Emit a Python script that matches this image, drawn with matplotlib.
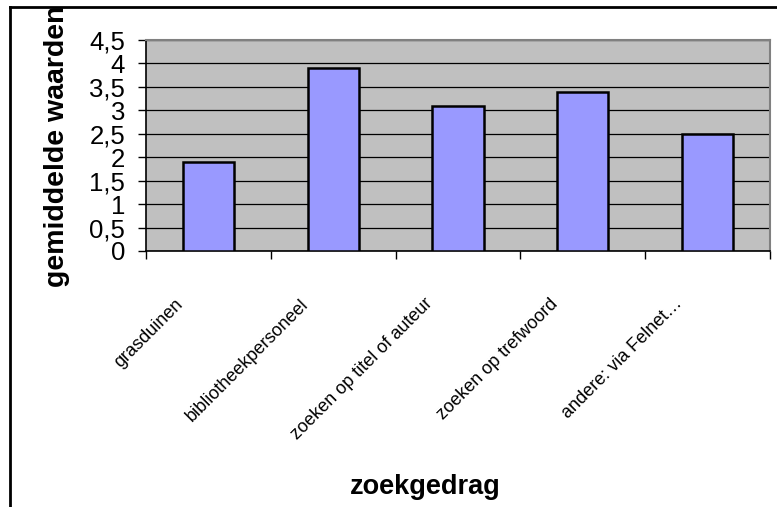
import numpy as np
import matplotlib
matplotlib.use("Agg")
import matplotlib.pyplot as plt
from matplotlib.lines import Line2D

plt.rcParams['font.family'] = ['Liberation Sans', 'DejaVu Sans']

categories = [
    "grasduinen",
    "bibliotheekpersoneel",
    "zoeken op titel of auteur",
    "zoeken op trefwoord",
    "andere: via Felnet\u2026",
]
values = [1.9, 3.9, 3.1, 3.4, 2.5]
y_ticks = [0, 0.5, 1, 1.5, 2, 2.5, 3, 3.5, 4, 4.5]
y_tick_labels = ["0", "0,5", "1", "1,5", "2", "2,5", "3", "3,5", "4", "4,5"]

W, H = 777, 507
fig = plt.figure(figsize=(W / 100, H / 100), dpi=100)
fig.patch.set_facecolor("white")

# plot area in pixel terms
left, right, top, bottom = 146, 770, 40, 251
ax = fig.add_axes([left / W, 1 - bottom / H, (right - left) / W, (bottom - top) / H])
ax.set_facecolor("#C0C0C0")

n = len(categories)
x = np.arange(n)
ax.bar(x, values, width=0.41, color="#9999FF", edgecolor="black",
       linewidth=1.8, zorder=3)

ax.set_xlim(-0.5, n - 0.5)
ax.set_ylim(0, 4.5)

# horizontal gridlines
ax.set_yticks(y_ticks)
ax.set_yticklabels(y_tick_labels, fontsize=18.5)
ax.yaxis.grid(True, color="black", linewidth=0.9, zorder=1)
ax.set_axisbelow(True)
ax.tick_params(axis="y", direction="out", length=6, width=1, pad=9,
               color="black")

# category boundary ticks on the x axis
ax.set_xticks(np.arange(n + 1) - 0.5, minor=True)
ax.tick_params(axis="x", which="minor", direction="out", length=5.5,
               width=1, color="black")

# slanted category labels, their ends sitting just left of each category
ax.set_xticks(x - 0.27)
ax.set_xticklabels(categories, fontsize=13, rotation=45, ha="right",
                   va="top", rotation_mode="anchor")
ax.tick_params(axis="x", which="major", length=0, pad=32)

for side in ("top", "right"):
    ax.spines[side].set_color("#808080")
    ax.spines[side].set_linewidth(1.5)
for side in ("left", "bottom"):
    ax.spines[side].set_color("black")
    ax.spines[side].set_linewidth(1.2)

# axis titles
fig.text(64 / W, 1 - 146 / H, "gemiddelde waarden", rotation=90,
         rotation_mode="anchor", ha="center", va="baseline",
         fontsize=20.5, fontweight="bold", zorder=5)
fig.text(425 / W, 1 - 487 / H, "zoekgedrag", ha="center", va="center",
         fontsize=19.5, fontweight="bold")

# chart frame (top and left edges)
fig.add_artist(Line2D([10 / W, 1], [1 - 7 / H, 1 - 7 / H], color="black",
                      linewidth=2, transform=fig.transFigure, zorder=1))
fig.add_artist(Line2D([10 / W, 10 / W], [0, 1 - 7 / H], color="black",
                      linewidth=2, transform=fig.transFigure, zorder=1))

fig.savefig("out.png", dpi=100)
